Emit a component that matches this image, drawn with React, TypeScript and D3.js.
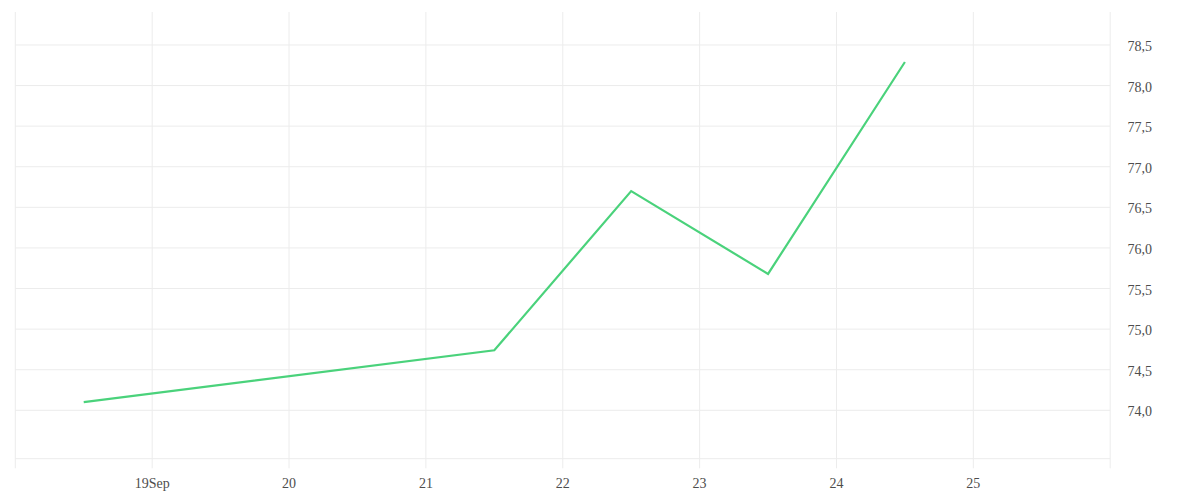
import React from "react";
import * as d3 from "d3";

const dates: string[] = [
  "2023-09-18T12:00:00Z",
  "2023-09-21T12:00:00Z",
  "2023-09-22T12:00:00Z",
  "2023-09-23T12:00:00Z",
  "2023-09-24T12:00:00Z",
];
const values: number[] = [74.1, 74.74, 76.7, 75.68, 78.29];
const yTicks: number[] = [74.0, 74.5, 75.0, 75.5, 76.0, 76.5, 77.0, 77.5, 78.0, 78.5];
const xTickDays: string[] = [
  "2023-09-18", "2023-09-19", "2023-09-20", "2023-09-21",
  "2023-09-22", "2023-09-23", "2023-09-24", "2023-09-25",
];

const W = 1200;
const H = 500;
const left = 15.3;
const right = 1110.2;
const top = 12;
const bottom = 458.7;
const tickLen = 9.6;
const grid = "#ececec";
const textColor = "#4d4d4d";
const font = "'Liberation Serif', serif";

export default function App() {
  const x = d3
    .scaleUtc()
    .domain([new Date("2023-09-18T00:00:00Z"), new Date("2023-09-26T00:00:00Z")])
    .range([left, right]);
  const y = d3.scaleLinear().domain([73.404, 78.906]).range([bottom, top]);

  const pts: [Date, number][] = dates.map((d, i) => [new Date(d), values[i]]);
  const line = d3
    .line<[Date, number]>()
    .x((d) => x(d[0]))
    .y((d) => y(d[1]));

  const xTicks = xTickDays.map((d) => new Date(d + "T00:00:00Z"));
  const fmtY = (v: number) => v.toFixed(1).replace(".", ",");
  const fmtX = (d: Date, i: number) => {
    const day = d3.utcFormat("%-d")(d);
    return i === 1 ? day + d3.utcFormat("%b")(d) : day;
  };

  return (
    <svg
      width={W}
      height={H}
      style={{ position: "absolute", left: 0, top: 0, background: "#fff" }}
    >
      {yTicks.map((t) => (
        <line key={"h" + t} x1={left} x2={right} y1={y(t)} y2={y(t)} stroke={grid} strokeWidth={1} />
      ))}
      <line x1={left} x2={right} y1={bottom} y2={bottom} stroke={grid} strokeWidth={1} />
      {xTicks.map((t, i) => (
        <line key={"v" + i} x1={x(t)} x2={x(t)} y1={top} y2={bottom + tickLen} stroke={grid} strokeWidth={1} />
      ))}
      <line x1={right} x2={right} y1={top} y2={bottom + tickLen} stroke={grid} strokeWidth={1} />
      {xTicks.map((t, i) =>
        i === 0 ? null : (
          <text
            key={"xl" + i}
            x={x(t)}
            y={488}
            textAnchor="middle"
            fontFamily={font}
            fontSize={14}
            fill={textColor}
          >
            {fmtX(t, i)}
          </text>
        )
      )}
      {yTicks.map((t) => (
        <text
          key={"yl" + t}
          x={1127.5}
          y={y(t) + 6}
          fontFamily={font}
          fontSize={14}
          fill={textColor}
        >
          {fmtY(t)}
        </text>
      ))}
      <path d={line(pts) ?? ""} fill="none" stroke="#4ad27b" strokeWidth={2.2} />
    </svg>
  );
}
